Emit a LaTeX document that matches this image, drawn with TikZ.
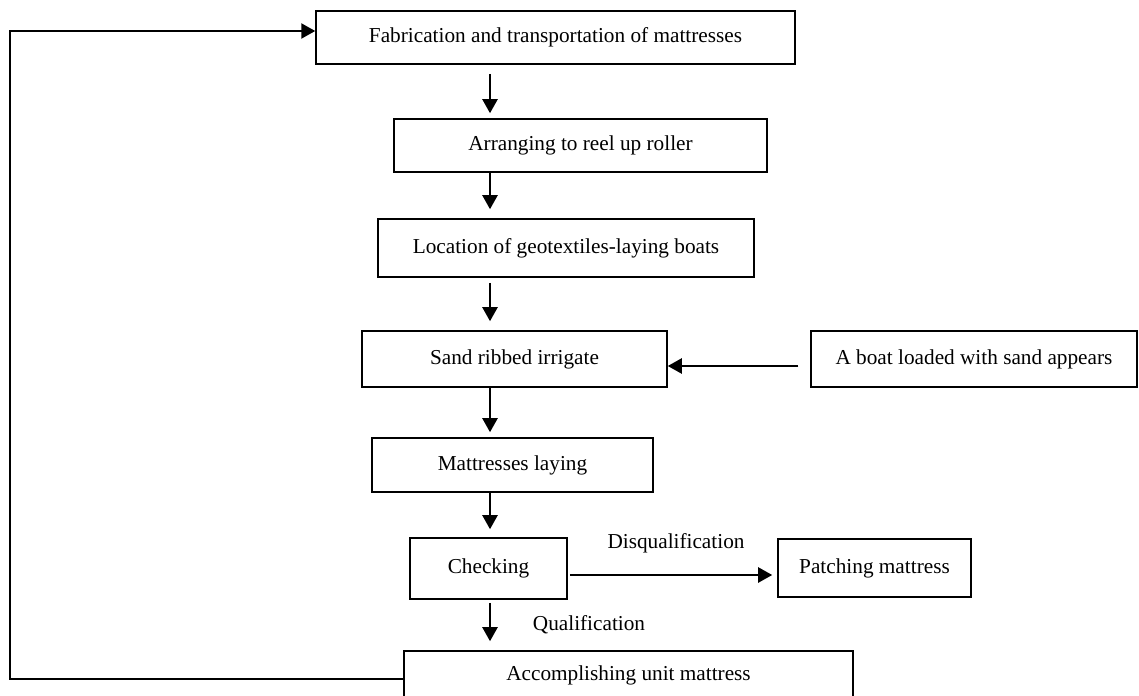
\documentclass[tikz,border=0pt]{standalone}
\usepackage{fontspec}
\setmainfont{Liberation Serif}
\usepackage{xcolor}
\usepackage{tikz}
\usetikzlibrary{positioning, arrows.meta}
\tikzset{
  stepbox/.style={draw, line width=0.9pt, inner sep=1pt, align=center,
    font=\fontsize{12.1pt}{14pt}\selectfont},
  flow/.style={->, line width=1.3pt},
  tag/.style={font=\fontsize{12.1pt}{14pt}\selectfont},
}

\begin{document}
\begin{tikzpicture}[x=0.02cm, y=-0.02cm, >={Triangle[length=2.8mm, width=3mm]}]
        \useasboundingbox (0,0) rectangle (1139,696);
        \coordinate (spine) at (490,0);
        \coordinate (loop) at (10,0);
        % main column
        \node[stepbox, minimum width=9.58cm, minimum height=1.06cm] (fab) at (555.5,37.5)
          {Fabrication and transportation of mattresses};
        \node[stepbox, minimum width=7.46cm, minimum height=1.06cm] (reel) at (580.5,145.5)
          {Arranging to reel up roller};
        \node[stepbox, minimum width=7.52cm, minimum height=1.16cm] (locate) at (566,248)
          {Location of geotextiles-laying boats};
        \node[stepbox, minimum width=6.10cm, minimum height=1.12cm] (sand) at (514.5,359)
          {Sand ribbed irrigate};
        \node[stepbox, minimum width=6.52cm, minimum height=1.12cm] (boat) at (974,359)
          {A boat loaded with sand appears};
        \node[stepbox, minimum width=5.62cm, minimum height=1.08cm] (lay) at (512.5,465)
          {Mattresses laying};
        \node[stepbox, minimum width=3.14cm, minimum height=1.22cm] (check) at (488.5,568.5)
          {Checking};
        \node[stepbox, minimum width=3.86cm, minimum height=1.16cm] (patch) at (874.5,568)
          {Patching mattress};
        \node[stepbox, minimum width=8.98cm, minimum height=0.98cm] (done) at (628.5,675.5)
          {Accomplishing unit mattress};
        % labels
        \node[tag] (disq) at (676,543) {Disqualification};
        \node[tag] (qual) at (589,625) {Qualification};
        % connectors
        \draw[flow, shorten <=1.8mm, shorten >=1mm] (fab.south -| spine) -- (reel.north -| spine);
        \draw[flow, shorten >=1.8mm] (reel.south -| spine) -- (locate.north -| spine);
        \draw[flow, shorten <=1mm, shorten >=1.8mm] (locate.south -| spine) -- (sand.north -| spine);
        \draw[flow, shorten >=1mm] (sand.south -| spine) -- (lay.north -| spine);
        \draw[flow, shorten >=1.6mm] (lay.south -| spine) -- (check.north -| spine);
        \draw[flow, shorten <=0.6mm, shorten >=1.8mm] (check.south -| spine) -- (done.north -| spine);
        \draw[flow, shorten <=2.4mm] ([yshift=-0.14cm]boat.west) -- ([yshift=-0.14cm]boat.west -| sand.east);
        \draw[flow, shorten <=0.4mm, shorten >=1mm] ([yshift=-0.13cm]check.east) -- ([yshift=-0.13cm]check.east -| patch.west);
        \draw[flow] ([yshift=-0.07cm]done.west) -| ([yshift=0.13cm]fab.west -| loop)
          -- ([yshift=0.13cm]fab.west);
      \end{tikzpicture}
\end{document}
